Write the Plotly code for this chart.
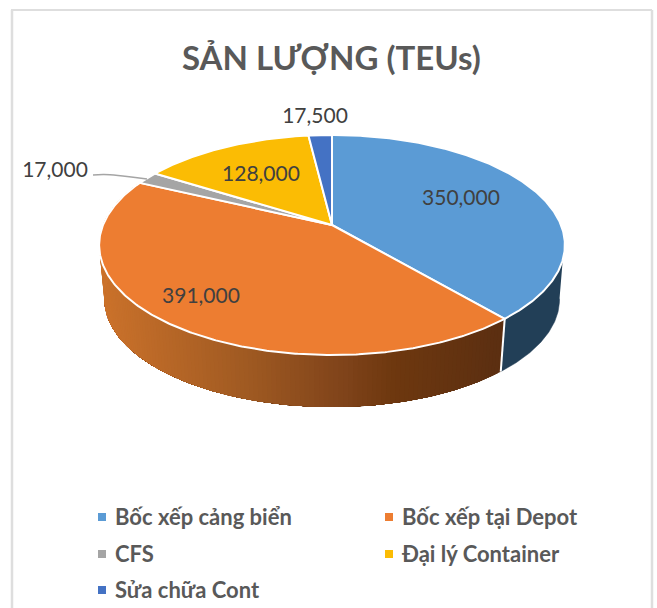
import math
import plotly.graph_objects as go

# ---- data ----
categories = ["Bốc xếp cảng biển", "Bốc xếp tại Depot", "CFS", "Đại lý Container", "Sửa chữa Cont"]
values = [350000, 391000, 17000, 128000, 17500]
top_colors = ["#5B9BD5", "#ED7D31", "#A5A5A5", "#FBBC04", "#4472C4"]
title_text = "SẢN LƯỢNG (TEUs)"

# ---- layout constants (pixels) ----
W, H = 657, 608
CX, CY = 332, 225          # apex of the pie on screen
A, B, K = 229.0, 106.4, 0.1818   # perspective projection of a unit disc
DROP, SHRINK = 55, 0.977   # lower rim of the 3-D wall
label_anchor = {0: (461, 200), 1: (201, 298), 2: (55, 172), 3: (261, 176), 4: (315, 118)}
legend_anchor = {0: (102, 517), 1: (389, 517), 2: (102, 554), 3: (389, 554), 4: (102, 590)}
LEGEND_TEXT_DX, LEGEND_TEXT_DY = 13, 2
TEXT_GREY, LABEL_GREY = "#595959", "#404040"
FONT = "Lato, Carlito, 'Open Sans', sans-serif"


def project(theta_deg, lower=False):
    t = math.radians(theta_deg)
    u, v = math.sin(t), math.cos(t)
    d = 1 + K * v
    x, y = A * u / d, -B * v / d
    if lower:
        return CX + x * SHRINK, CY + DROP + y * SHRINK
    return CX + x, CY + y


def arange(a, b, step=1.0):
    n = max(2, int(abs(b - a) / step) + 1)
    return [a + (b - a) * i / (n - 1) for i in range(n)]


def hex_rgb(h):
    return tuple(int(h[i:i + 2], 16) for i in (1, 3, 5))


wall_ramp = [(100, "#CB722B"), (247, "#A05A22"), (347, "#7F431A"), (395, "#6E380F"), (500, "#5C2F11")]


def wall_color(x):
    for (x0, c0), (x1, c1) in zip(wall_ramp, wall_ramp[1:]):
        if x <= x1:
            f = max(0, (x - x0) / (x1 - x0))
            r0, r1 = hex_rgb(c0), hex_rgb(c1)
            return "rgb(%d,%d,%d)" % tuple(round(a + (b - a) * f) for a, b in zip(r0, r1))
    return wall_ramp[-1][1]


total = sum(values)
edges = [0.0]
for val in values:
    edges.append(edges[-1] + val / total * 360)

fig = go.Figure()


def poly(xs, ys, fill, line_color, line_width):
    fig.add_trace(go.Scatter(x=xs, y=ys, mode="lines", fill="toself", fillcolor=fill,
                             line=dict(color=line_color, width=line_width),
                             hoverinfo="skip", showlegend=False))


def wall(top_a, top_b, low_a, low_b):
    pts_top = [project(t) for t in arange(top_a, top_b, 0.5)]
    pts_low = [project(t, True) for t in arange(low_b, low_a, 0.5)]
    xs = [p[0] for p in pts_top + pts_low]
    ys = [p[1] for p in pts_top + pts_low]
    return xs, ys


# walls: blue slice is flat dark, orange slice carries a horizontal shading.
# Each orange polygon runs to the far end so that later ones paint over earlier ones without seams.
wx, wy = wall(108, edges[1], 100, edges[1])
poly(wx, wy, "#223F57", "#223F57", 0.5)
orange_wall_angles = arange(edges[1], edges[2], 1.0)
for a in orange_wall_angles[:-1]:
    wx, wy = wall(a, edges[2], a, edges[2])
    col = wall_color(project(a)[0])
    poly(wx, wy, col, col, 0)
# silhouette filler between the upper and lower rim on the far left
wx, wy = wall(250, 285, 262, 285)
poly(wx, wy, wall_ramp[0][1], wall_ramp[0][1], 0)

# separator between the two visible walls
p_top, p_low = project(edges[1]), project(edges[1], True)
fig.add_trace(go.Scatter(x=[p_top[0], p_low[0]], y=[p_top[1], p_low[1]], mode="lines",
                         line=dict(color="white", width=2), hoverinfo="skip", showlegend=False))

# top faces
for i, col in enumerate(top_colors):
    rim = [project(t) for t in arange(edges[i], edges[i + 1], 0.5)]
    xs = [CX] + [p[0] for p in rim] + [CX]
    ys = [CY] + [p[1] for p in rim] + [CY]
    poly(xs, ys, col, "white", 2)

# leader line of the CFS label
fig.add_trace(go.Scatter(x=[93, 104, 118, 147], y=[175, 174.6, 175.5, 179], mode="lines",
                         line=dict(color="#A5A5A5", width=1.5, shape="spline"),
                         hoverinfo="skip", showlegend=False))

# data labels
for i, val in enumerate(values):
    lx, ly = label_anchor[i]
    fig.add_trace(go.Scatter(x=[lx], y=[ly], mode="text", text=[f"{val:,}"],
                             textposition="middle center",
                             textfont=dict(family=FONT, size=21, color=LABEL_GREY),
                             hoverinfo="skip", showlegend=False))

# legend
for i, name in enumerate(categories):
    lx, ly = legend_anchor[i]
    fig.add_trace(go.Scatter(x=[lx], y=[ly], mode="markers",
                             marker=dict(symbol="square", size=8, color=top_colors[i]),
                             hoverinfo="skip", showlegend=False))
    fig.add_trace(go.Scatter(x=[lx + LEGEND_TEXT_DX], y=[ly + LEGEND_TEXT_DY], mode="text", text=[name],
                             textposition="middle right",
                             textfont=dict(family=FONT, size=22, color=TEXT_GREY, weight=700),
                             hoverinfo="skip", showlegend=False))

BORDER = "#DEDEDE"
fig.update_layout(
    width=W, height=H, margin=dict(l=0, r=0, t=0, b=0),
    paper_bgcolor="white", plot_bgcolor="white", showlegend=False,
    xaxis=dict(range=[0, W], visible=False, fixedrange=True),
    yaxis=dict(range=[H, 0], visible=False, fixedrange=True),
    annotations=[dict(x=331, y=57, xref="x", yref="y", text=f"<b>{title_text}</b>", showarrow=False,
                      font=dict(family=FONT, size=33, color=TEXT_GREY))],
    shapes=[dict(type="line", x0=12, x1=12, y0=10, y1=H, line=dict(color=BORDER, width=2.5)),
            dict(type="line", x0=11, x1=652, y0=10, y1=10, line=dict(color=BORDER, width=2)),
            dict(type="line", x0=652, x1=652, y0=10, y1=H, line=dict(color=BORDER, width=2.5))],
)
fig.write_html("out.html", config={"displayModeBar": False},
               post_script="document.body.style.margin='0';document.body.style.overflow='hidden';")
